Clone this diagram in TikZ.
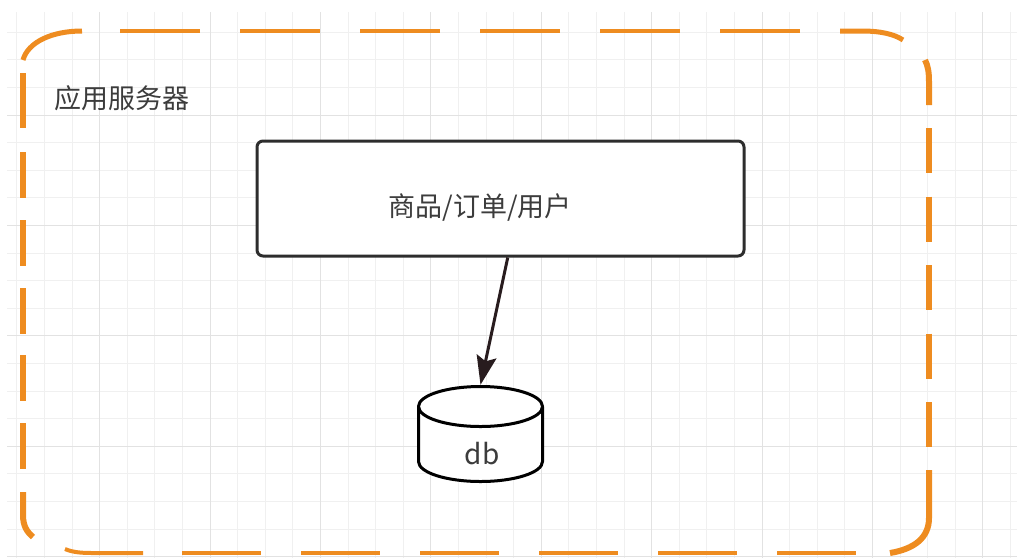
\documentclass[tikz,border=0pt]{standalone}
\usepackage{fontspec}
\setmainfont{Noto Sans CJK SC}
\usetikzlibrary{arrows.meta}
\definecolor{borange}{RGB}{238,140,32}
\definecolor{gminorc}{RGB}{240,240,240}
\definecolor{gmajorc}{RGB}{226,226,226}
\definecolor{boxline}{RGB}{45,45,45}
\definecolor{txt}{RGB}{60,60,60}
\definecolor{arrc}{RGB}{40,28,30}
\tikzset{
  gminor/.style={draw=gminorc, line width=1pt},
  gmajor/.style={draw=gmajorc, line width=1pt},
  hb/.style={draw=borange, line width=4pt},
  vb/.style={draw=borange, line width=6pt},
  cb/.style={draw=borange, line width=5pt},
  proc/.style={draw=boxline, line width=3pt, rounded corners=6pt, fill=white,
    minimum width=487pt, minimum height=115pt},
  dbframe/.style={minimum width=127pt, minimum height=98pt, inner sep=0pt},
  dbline/.style={draw=black, line width=3pt, line join=round},
  lbl/.style={text=txt, font=\fontsize{27}{30}\selectfont, inner sep=0pt},
  title/.style={lbl, anchor=west},
  arr/.style={draw=arrc, line width=3pt, -{Stealth[length=29pt,width=20pt,inset=5pt]}},
}
\begin{document}
\begin{tikzpicture}[x=1pt,y=-1pt]
\useasboundingbox (0,0) rectangle (1017,558);
% grid
\foreach \i in {0,...,36}{\draw[gminor] ({16.8+27.6*\i},12) -- ({16.8+27.6*\i},558);}
\foreach \j in {1,...,20}{\draw[gminor] (7,{4.6+27.6*\j}) -- (1017,{4.6+27.6*\j});}
\foreach \i in {3,7,...,35}{\draw[gmajor] ({16.8+27.6*\i},12) -- ({16.8+27.6*\i},558);}
\foreach \j in {4,8,...,20}{\draw[gmajor] (7,{4.6+27.6*\j}) -- (1017,{4.6+27.6*\j});}
% dashed container border
\draw[cb] (23,60) .. controls (28,42) and (52,31) .. (82,31);
\foreach \a in {120,240,...,720}{\draw[hb] (\a,31) -- ++(80,0);}
\draw[cb] (840,31) -- (862,31) .. controls (880,31) and (894,34) .. (903,40);
\draw[vb] (925,60) .. controls (928,66) and (929,72) .. (929,82) -- (929,105);
\foreach \a in {128,196.5,265,333.5,402}{\draw[vb] (929,\a) -- ++(0,45);}
\draw[vb] (929,470) -- (929,518) .. controls (929,538) and (914,549) .. (890,553);
\foreach \a in {182,301,420,539,658,777}{\draw[hb] (\a,553) -- ++(79,0);}
\draw[hb] (65,549) .. controls (72,552) and (80,553) .. (92,553) -- (143,553);
\draw[vb] (23,73) -- (23,128);
\foreach \a in {152,220,288,355,423}{\draw[vb] (23,\a) -- ++(0,46);}
\draw[vb] (23,492) -- (23,515) .. controls (23,526) and (27,532) .. (33,537);
% title
\node[title] (server) at (54,98) {应用服务器};
% process box
\node[proc] (app) at (500.5,198.5) {};
\node[lbl] (applbl) at (480,208) {商品/订单/用户};
% database cylinder
\node[dbframe] (db) at (480.5,434) {};
\begin{scope}[shift={(db.center)}]
  \fill[white] (-62,-27.5) -- (-62,27.5) arc (180:0:62 and 20) -- (62,-27.5) arc (0:-180:62 and 20) -- cycle;
  \draw[dbline] (-62,-27.5) -- (-62,27.5) arc (180:0:62 and 20) -- (62,-27.5);
  \draw[dbline] (0,-27.5) ellipse (62 and 20);
\end{scope}
\node[lbl, font=\fontsize{28}{30}\selectfont] (dblbl) at (482,454) {db};
\draw[arr] (app.277) -- (db.north);
\end{tikzpicture}
\end{document}
